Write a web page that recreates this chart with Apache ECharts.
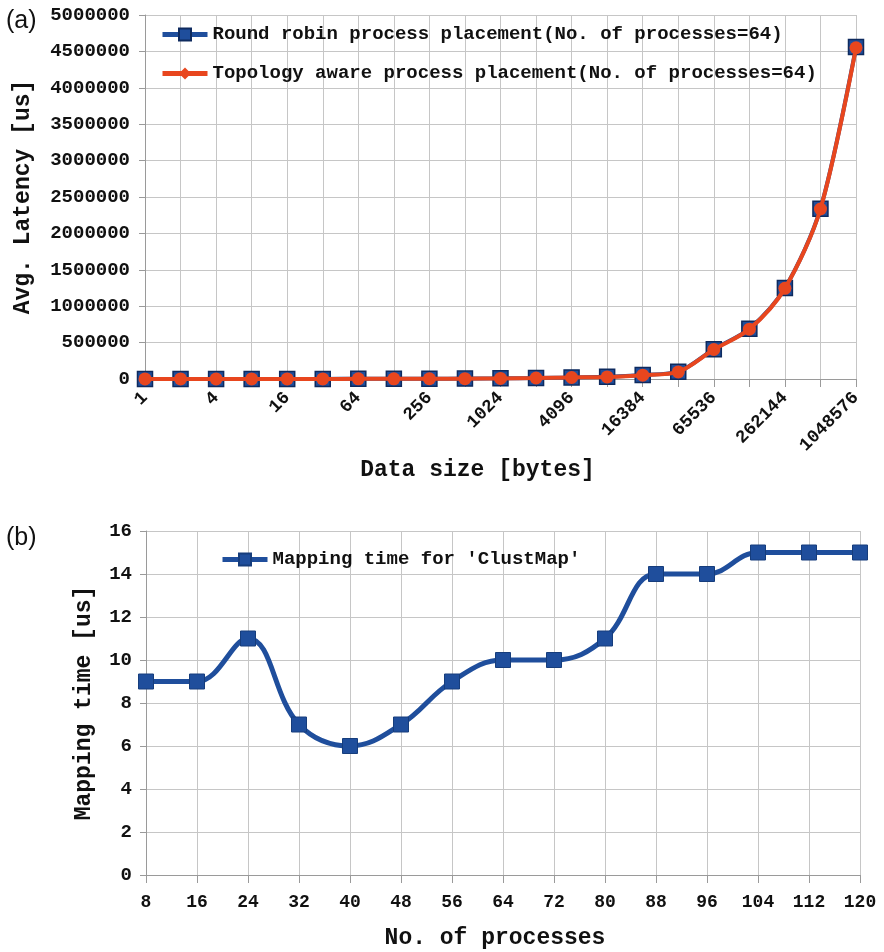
<!DOCTYPE html>
<html>
<head>
<meta charset="utf-8">
<script src="https://cdn.jsdelivr.net/npm/echarts@6/dist/echarts.min.js"></script>
<style>
html,body{margin:0;padding:0;background:#fff;}
#main{width:884px;height:952px;}
</style>
</head>
<body>
<div id="main"></div>
<script>
// ---- Chart (a) data ----
var dataSizes = ['1','2','4','8','16','32','64','128','256','512','1024','2048','4096','8192','16384','32768','65536','131072','262144','524288','1048576'];
var roundRobin = [1200, 1300, 1300, 1400, 1500, 1700, 2000, 2500, 3500, 5500, 9000, 15000, 22000, 30000, 55000, 100000, 410000, 690000, 1250000, 2340000, 4560000];
var topologyAware = [1000, 1100, 1100, 1200, 1300, 1500, 1800, 2300, 3200, 5000, 8500, 14000, 21000, 28000, 52000, 97000, 405000, 685000, 1245000, 2335000, 4550000];
var latencyTicks = [0, 500000, 1000000, 1500000, 2000000, 2500000, 3000000, 3500000, 4000000, 4500000, 5000000];

// ---- Chart (b) data ----
var processes = ['8','16','24','32','40','48','56','64','72','80','88','96','104','112','120'];
var mappingTime = [9, 9, 11, 7, 6, 7, 9, 10, 10, 11, 14, 14, 15, 15, 15];
var mappingTicks = [0, 2, 4, 6, 8, 10, 12, 14, 16];

var MONO = '"Liberation Mono", "Courier New", monospace';
var BLUE = '#1f4e9c';
var RED = '#e8461e';
var GRID = '#c6c6c6';
var AXIS = '#9a9a9a';

var chart = echarts.init(document.getElementById('main'), null, {renderer: 'canvas'});

var option = {
  backgroundColor: '#ffffff',
  animation: false,
  graphic: [
    {type: 'text', left: 6, top: 9, style: {text: '(a)', font: '25px "Liberation Sans", Arial, sans-serif', fill: '#111'}},
    {type: 'text', left: 6, top: 526, style: {text: '(b)', font: '25px "Liberation Sans", Arial, sans-serif', fill: '#111'}}
  ],
  legend: [
    {
      orient: 'vertical',
      left: 155, top: 20,
      itemWidth: 45, itemHeight: 15, itemGap: 20,
      lineStyle: {width: 5},
      textStyle: {fontFamily: MONO, fontWeight: 'bold', fontSize: 19, color: '#111'},
      data: ['Round robin process placement(No. of processes=64)', 'Topology aware process placement(No. of processes=64)']
    },
    {
      orient: 'vertical',
      left: 215, top: 545,
      itemWidth: 45, itemHeight: 15,
      lineStyle: {width: 5},
      textStyle: {fontFamily: MONO, fontWeight: 'bold', fontSize: 19, color: '#111'},
      data: ["Mapping time for 'ClustMap'"]
    }
  ],
  grid: [
    {left: 145, right: 28, top: 15, height: 364, containLabel: false, outerBoundsMode: 'none'},
    {left: 146, right: 24, top: 531, height: 344, containLabel: false, outerBoundsMode: 'none'}
  ],
  xAxis: [
    {
      gridIndex: 0,
      type: 'category',
      data: dataSizes,
      boundaryGap: false,
      name: 'Data size [bytes]',
      nameLocation: 'middle',
      nameGap: 80,
      nameTextStyle: {fontFamily: MONO, fontWeight: 'bold', fontSize: 23, color: '#111', padding: [0, 46, 0, 0]},
      axisLine: {show: true, lineStyle: {color: AXIS, width: 1}},
      axisTick: {show: true, interval: 0, length: 8, lineStyle: {color: AXIS}},
      axisLabel: {interval: 1, rotate: 45, margin: 16, fontFamily: MONO, fontWeight: 'bold', fontSize: 18, color: '#111'},
      splitLine: {show: true, interval: 0, lineStyle: {color: GRID, width: 1}}
    },
    {
      gridIndex: 1,
      type: 'category',
      data: processes,
      boundaryGap: false,
      name: 'No. of processes',
      nameLocation: 'middle',
      nameGap: 52,
      nameTextStyle: {fontFamily: MONO, fontWeight: 'bold', fontSize: 23, color: '#111', padding: [0, 16, 0, 0]},
      axisLine: {show: true, lineStyle: {color: AXIS, width: 1}},
      axisTick: {show: true, interval: 0, length: 8, lineStyle: {color: AXIS}},
      axisLabel: {interval: 0, margin: 18, fontFamily: MONO, fontWeight: 'bold', fontSize: 18, color: '#111'},
      splitLine: {show: true, interval: 0, lineStyle: {color: GRID, width: 1}}
    }
  ],
  yAxis: [
    {
      gridIndex: 0,
      type: 'value',
      min: latencyTicks[0],
      max: latencyTicks[latencyTicks.length - 1],
      interval: latencyTicks[1] - latencyTicks[0],
      name: 'Avg. Latency [us]',
      nameLocation: 'middle',
      nameGap: 110,
      nameTextStyle: {fontFamily: MONO, fontWeight: 'bold', fontSize: 23, color: '#111'},
      axisLine: {show: true, lineStyle: {color: AXIS, width: 1}},
      axisTick: {show: true, length: 6, lineStyle: {color: AXIS}},
      axisLabel: {margin: 15, fontFamily: MONO, fontWeight: 'bold', fontSize: 19, color: '#111', formatter: function (v) { return String(v); }},
      splitLine: {show: true, lineStyle: {color: GRID, width: 1}}
    },
    {
      gridIndex: 1,
      type: 'value',
      min: mappingTicks[0],
      max: mappingTicks[mappingTicks.length - 1],
      interval: mappingTicks[1] - mappingTicks[0],
      name: 'Mapping time [us]',
      nameLocation: 'middle',
      nameGap: 50,
      nameTextStyle: {fontFamily: MONO, fontWeight: 'bold', fontSize: 23, color: '#111'},
      axisLine: {show: true, lineStyle: {color: AXIS, width: 1}},
      axisTick: {show: true, length: 6, lineStyle: {color: AXIS}},
      axisLabel: {margin: 14, fontFamily: MONO, fontWeight: 'bold', fontSize: 19, color: '#111', formatter: function (v) { return String(v); }},
      splitLine: {show: true, lineStyle: {color: GRID, width: 1}}
    }
  ],
  series: [
    {
      name: 'Round robin process placement(No. of processes=64)',
      type: 'line',
      xAxisIndex: 0, yAxisIndex: 0,
      data: roundRobin,
      smooth: 0.3,
      symbol: 'rect',
      symbolSize: 15,
      lineStyle: {color: BLUE, width: 4},
      itemStyle: {color: BLUE, borderColor: '#0e2a5e', borderWidth: 1.5},
      z: 2
    },
    {
      name: 'Topology aware process placement(No. of processes=64)',
      type: 'line',
      xAxisIndex: 0, yAxisIndex: 0,
      data: topologyAware.map(function (v) { return {value: v, symbol: 'circle', symbolSize: 13}; }),
      smooth: 0.3,
      symbol: 'diamond',
      symbolSize: 14,
      lineStyle: {color: RED, width: 4},
      itemStyle: {color: RED},
      z: 3
    },
    {
      name: "Mapping time for 'ClustMap'",
      type: 'line',
      xAxisIndex: 1, yAxisIndex: 1,
      data: mappingTime,
      smooth: 0.4,
      symbol: 'rect',
      symbolSize: 15,
      lineStyle: {color: BLUE, width: 5},
      itemStyle: {color: BLUE, borderColor: '#163d7c', borderWidth: 1}
    }
  ]
};
chart.setOption(option);
</script>
</body>
</html>
